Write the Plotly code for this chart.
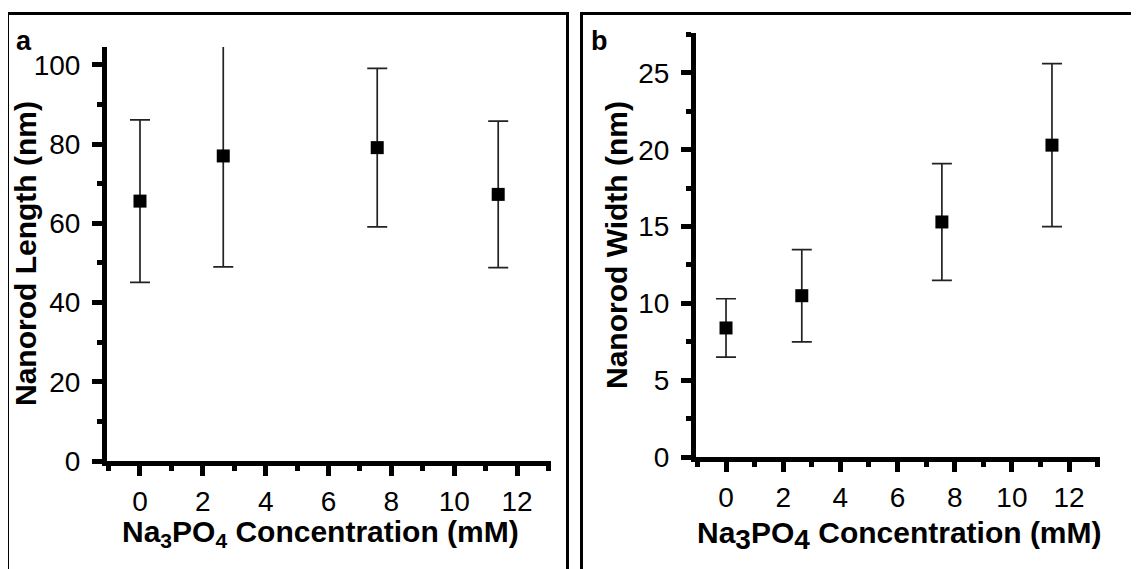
"""Nanorod length / width vs Na3PO4 concentration, two panels"""

import plotly.graph_objects as go

# Data
conc = [0, 2.65, 7.55, 11.4]
length = [65.6, 77.0, 79.1, 67.3]
length_err = [20.5, 28.0, 20.0, 18.5]
width = [8.4, 10.5, 15.3, 20.3]
width_err = [1.9, 3.0, 3.8, 5.3]

W, H = 1139, 569
OFF = 8  # the page body adds an 8px margin, so shift everything back by that
FONT = "Liberation Sans, Arial, sans-serif"


def px_x(v):
    return (v - OFF) / W


def px_y(v):
    return 1 - (v - OFF) / H


def axis_style(**kw):
    """Origin-like thick axis with outside ticks"""
    base = dict(
        showline=True, linewidth=5, linecolor='black',
        ticks='outside', ticklen=10, tickwidth=5, tickcolor='black',
        showgrid=False, zeroline=False, automargin=False,
        tickfont=dict(size=28, color='black', family=FONT),
        ticklabelstandoff=1,
    )
    base.update(kw)
    return base


def minor(step):
    return dict(ticks='outside', ticklen=5, tickwidth=5, tickcolor='black',
                dtick=step, tick0=0)


fig = go.Figure()

for y, err, xa, ya in [(length, length_err, 'x', 'y'), (width, width_err, 'x2', 'y2')]:
    fig.add_trace(go.Scatter(
        x=conc, y=y, xaxis=xa, yaxis=ya,
        mode='markers',
        marker=dict(symbol='square', size=13, color='black'),
        error_y=dict(type='data', array=err, visible=True,
                     color='#222222', thickness=1.7, width=10),
        showlegend=False,
    ))

fig.update_layout(
    template='none',
    width=W, height=H,
    margin=dict(l=0, r=0, t=0, b=0, autoexpand=False),
    paper_bgcolor='white', plot_bgcolor='white',
    font=dict(family=FONT, color='black', size=28),
    xaxis=axis_style(domain=[px_x(107), px_x(551)], range=[-1.05, 13.08],
                     dtick=2, tick0=0, minor=minor(1), anchor='y'),
    yaxis=axis_style(domain=[px_y(461), px_y(47)], range=[0, 104.5],
                     dtick=20, tick0=0, anchor='x', minor=minor(10),
                     ticklabelstandoff=6),
    xaxis2=axis_style(domain=[px_x(696), px_x(1100)], range=[-1.05, 13.08],
                      dtick=2, tick0=0, minor=minor(1), anchor='y2'),
    yaxis2=axis_style(domain=[px_y(457), px_y(33)], range=[0, 27.6],
                      dtick=5, tick0=0, anchor='x2', minor=minor(2.5),
                      ticklabelstandoff=6),
)

# Panel frames (bottom edges run off the page)
for x0, x1 in [(7.5, 567.5), (581.5, 1160)]:
    fig.add_shape(type='rect', xref='paper', yref='paper',
                  x0=px_x(x0), x1=px_x(x1), y0=-0.05, y1=px_y(13.5),
                  line=dict(color='black', width=3))

title_font = dict(size=30, color='black', family=FONT)

# Axis titles and panel letters
annots = [
    dict(x=px_x(320), y=px_y(533), text='<b>Na<sub>3</sub>PO<sub>4</sub> Concentration (mM)</b>'),
    dict(x=px_x(899), y=px_y(535),
         text='<b>Na<sub><span style="font-size:28px">3</span></sub>PO'
              '<sub><span style="font-size:28px">4</span></sub> Concentration (mM)</b>'),
    dict(x=px_x(25), y=px_y(254), text='<b>Nanorod Length (nm)</b>', textangle=-90),
    dict(x=px_x(616), y=px_y(245), text='<b>Nanorod Width (nm)</b>', textangle=-90),
]
for a in annots:
    fig.add_annotation(xref='paper', yref='paper', showarrow=False,
                       xanchor='center', yanchor='middle', font=title_font, **a)

for x, label in [(14, 'a'), (589, 'b')]:
    fig.add_annotation(xref='paper', yref='paper', x=px_x(x), y=px_y(41),
                       text=f'<b>{label}</b>', showarrow=False,
                       xanchor='left', yanchor='middle',
                       font=dict(size=27, color='black', family=FONT))

fig.write_html("out.html")
